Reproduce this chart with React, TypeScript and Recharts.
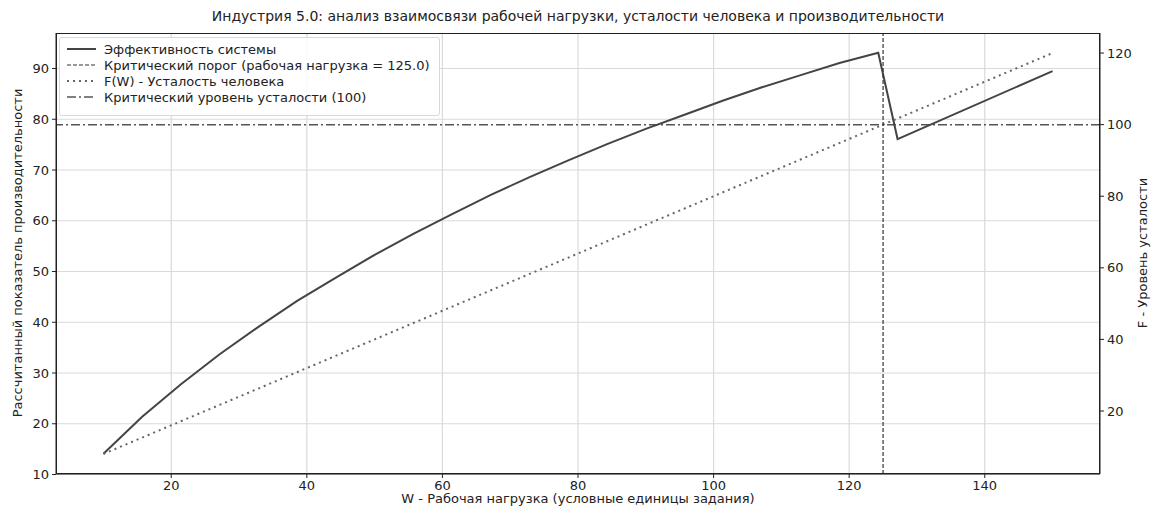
import { LineChart, Line, XAxis, YAxis, CartesianGrid, ReferenceLine } from 'recharts';

// W sample points (workload) and readings of the efficiency curve
const W_EFF = [
  10, 15.71, 21.43, 27.14, 32.86, 38.57, 44.29, 50, 55.71, 61.43, 67.14,
  72.86, 78.57, 84.29, 90, 95.71, 101.43, 107.14, 112.86, 118.57, 124.29,
  127.14, 150,
];
const EFFICIENCY = [
  14.1, 21.4, 27.8, 33.7, 39.1, 44.2, 48.8, 53.3, 57.4, 61.3, 65.1,
  68.6, 71.9, 75.1, 78.1, 80.9, 83.7, 86.3, 88.7, 91.1, 93.1,
  76.1, 89.5,
];

// fatigue F(W)
const W_FATIGUE = [10, 150];
const FATIGUE = [8, 120];

const CRITICAL_LOAD = 125;
const CRITICAL_FATIGUE = 100;

const X_TICKS = [20, 40, 60, 80, 100, 120, 140];
const LEFT_TICKS = [10, 20, 30, 40, 50, 60, 70, 80, 90];
const RIGHT_TICKS = [20, 40, 60, 80, 100, 120];

const effRows = W_EFF.map((w, i) => ({ w, eff: EFFICIENCY[i] }));
const fatRows = W_FATIGUE.map((w, i) => ({ w, fat: FATIGUE[i] }));

const FONT = '"DejaVu Sans", sans-serif';
const TICK = { fill: '#222', fontSize: 13, fontFamily: FONT };
const TEXT_COLOR = '#222';

const LEGEND_ITEMS = [
  { label: 'Эффективность системы', dash: undefined, color: '#444', width: 2 },
  { label: 'Критический порог (рабочая нагрузка = 125.0)', dash: '4 2', color: '#333', width: 1.2 },
  { label: 'F(W) - Усталость человека', dash: '2 4', color: '#666', width: 2 },
  { label: 'Критический уровень усталости (100)', dash: '9 3 2 3', color: '#555', width: 1.5 },
];

function Legend() {
  return (
    <div
      style={{
        position: 'absolute',
        left: 59,
        top: 37,
        width: 381,
        height: 79,
        border: '1px solid #d8d8d8',
        borderRadius: 3,
        background: 'rgba(255,255,255,0.85)',
        boxSizing: 'border-box',
        padding: '3px 0 0 7px',
        fontFamily: FONT,
        fontSize: 13,
        color: TEXT_COLOR,
      }}
    >
      {LEGEND_ITEMS.map((it) => (
        <div key={it.label} style={{ height: 16, display: 'flex', alignItems: 'center' }}>
          <svg width={29} height={10} style={{ marginRight: 8 }}>
            <line
              x1={0}
              x2={29}
              y1={5}
              y2={5}
              stroke={it.color}
              strokeWidth={it.width}
              strokeDasharray={it.dash}
            />
          </svg>
          <span>{it.label}</span>
        </div>
      ))}
    </div>
  );
}

export default function App() {
  return (
    <div
      style={{
        position: 'fixed',
        left: 0,
        top: 0,
        width: 1153,
        height: 511,
        background: '#fff',
        fontFamily: FONT,
      }}
    >
      <div
        style={{
          position: 'absolute',
          left: 56,
          width: 1044,
          top: 8,
          textAlign: 'center',
          fontSize: 14,
          color: TEXT_COLOR,
        }}
      >
        Индустрия 5.0: анализ взаимосвязи рабочей нагрузки, усталости человека и производительности
      </div>

      <LineChart width={1153} height={511} margin={{ top: 33, right: 0, bottom: 0, left: 0 }}>
        <CartesianGrid yAxisId="left" stroke="#dadada" strokeWidth={1.2} horizontalValues={LEFT_TICKS} verticalValues={X_TICKS} />
        <XAxis
          dataKey="w"
          type="number"
          domain={[3, 157]}
          ticks={X_TICKS}
          allowDataOverflow
          height={37}
          tick={TICK}
          tickSize={4}
          tickMargin={3}
          stroke="#222"
        />
        <YAxis
          yAxisId="left"
          type="number"
          domain={[10.1, 97]}
          ticks={LEFT_TICKS}
          allowDataOverflow
          width={56}
          tick={TICK}
          tickSize={4}
          tickMargin={3}
          stroke="#222"
        />
        <YAxis
          yAxisId="right"
          orientation="right"
          type="number"
          domain={[2.4, 125.6]}
          ticks={RIGHT_TICKS}
          allowDataOverflow
          width={53}
          tick={TICK}
          tickSize={4}
          tickMargin={3}
          stroke="#222"
        />
        <ReferenceLine
          yAxisId="right"
          y={CRITICAL_FATIGUE}
          stroke="#555"
          strokeWidth={1.5}
          strokeDasharray="9 3 2 3"
        />
        <Line
          yAxisId="left"
          data={effRows}
          dataKey="eff"
          type="linear"
          stroke="#444"
          strokeWidth={2}
          dot={false}
          isAnimationActive={false}
        />
        <Line
          yAxisId="right"
          data={fatRows}
          dataKey="fat"
          type="linear"
          stroke="#666"
          strokeWidth={2}
          strokeDasharray="2 4"
          dot={false}
          isAnimationActive={false}
        />
        <ReferenceLine
          yAxisId="left"
          x={CRITICAL_LOAD}
          stroke="#333"
          strokeWidth={1.2}
          strokeDasharray="4 2"
        />
      </LineChart>

      {/* axes frame */}
      <div
        style={{
          position: 'absolute',
          left: 56,
          top: 33,
          width: 1044,
          height: 441,
          border: '1px solid #222',
          boxSizing: 'border-box',
          pointerEvents: 'none',
        }}
      />

      <Legend />

      <div
        style={{
          position: 'absolute',
          left: 56,
          width: 1044,
          top: 491,
          textAlign: 'center',
          fontSize: 13,
          color: TEXT_COLOR,
        }}
      >
        W - Рабочая нагрузка (условные единицы задания)
      </div>
      <div
        style={{
          position: 'absolute',
          left: 17,
          top: 253,
          transform: 'translate(-50%, -50%) rotate(-90deg)',
          whiteSpace: 'nowrap',
          fontSize: 13,
          color: TEXT_COLOR,
        }}
      >
        Рассчитанный показатель производительности
      </div>
      <div
        style={{
          position: 'absolute',
          left: 1142,
          top: 253,
          transform: 'translate(-50%, -50%) rotate(-90deg)',
          whiteSpace: 'nowrap',
          fontSize: 13,
          color: TEXT_COLOR,
        }}
      >
        F - Уровень усталости
      </div>
    </div>
  );
}
